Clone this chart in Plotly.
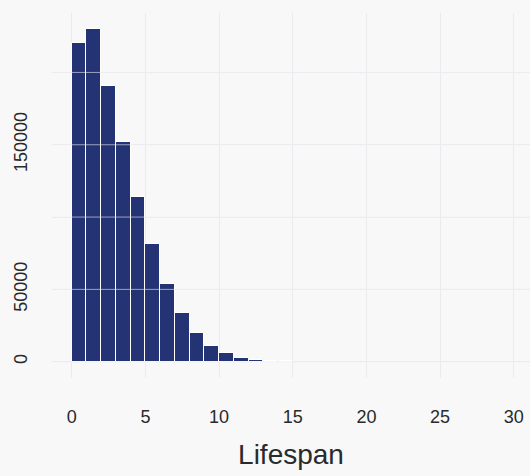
import plotly.graph_objects as go

# Histogram of lifespans: unit-width bins starting at 0
bin_edges = list(range(0, 16))
counts = [220200, 229900, 190900, 151700, 114100, 81600, 53700, 33500,
          20100, 11200, 5700, 2400, 900, 400, 150]

x_tick_vals = [0, 5, 10, 15, 20, 25, 30]
y_tick_vals = [0, 50000, 100000, 150000, 200000]
y_tick_text = ["0", "50000", "", "150000", ""]

bar_color = "#243373"
bg_color = "#f8f8f9"
grid_color = "#ebebef"
text_color = "#2a2a2a"

centers = [(a + b) / 2 for a, b in zip(bin_edges[:-1], bin_edges[1:])]
widths = [b - a for a, b in zip(bin_edges[:-1], bin_edges[1:])]

fig = go.Figure(
    go.Bar(
        x=centers,
        y=counts,
        width=widths,
        marker=dict(color=bar_color, line=dict(color="white", width=1)),
        hoverinfo="x+y",
    )
)

# light horizontal rules drawn across the bars as well
for v in y_tick_vals:
    fig.add_shape(
        type="line", xref="paper", x0=0, x1=1, yref="y", y0=v, y1=v,
        line=dict(color="rgba(236,236,242,0.6)", width=1), layer="above",
    )

font = dict(family="Liberation Sans, Arial, Helvetica, sans-serif", color=text_color)

fig.update_layout(
    width=530,
    height=476,
    margin=dict(l=52, r=0, t=13, b=98),
    paper_bgcolor=bg_color,
    plot_bgcolor=bg_color,
    bargap=0,
    showlegend=False,
    font=font,
    xaxis=dict(
        range=[-1.34, 31.1],
        tickvals=x_tick_vals,
        ticktext=[str(v) for v in x_tick_vals],
        ticklabeloverflow="allow",
        showgrid=True,
        gridcolor=grid_color,
        gridwidth=1,
        zeroline=False,
        showline=False,
        ticks="",
        ticklabelstandoff=26,
        tickfont=dict(size=18, **font),
        title=dict(text="Lifespan", font=dict(size=28, **font), standoff=18),
    ),
    yaxis=dict(
        range=[-11270, 241100],
        tickvals=y_tick_vals,
        ticktext=y_tick_text,
        tickangle=-90,
        showgrid=True,
        gridcolor=grid_color,
        gridwidth=1,
        zeroline=False,
        showline=False,
        ticks="",
        ticklabelstandoff=20,
        tickfont=dict(size=18, **font),
    ),
)

fig.write_html("out.html")
